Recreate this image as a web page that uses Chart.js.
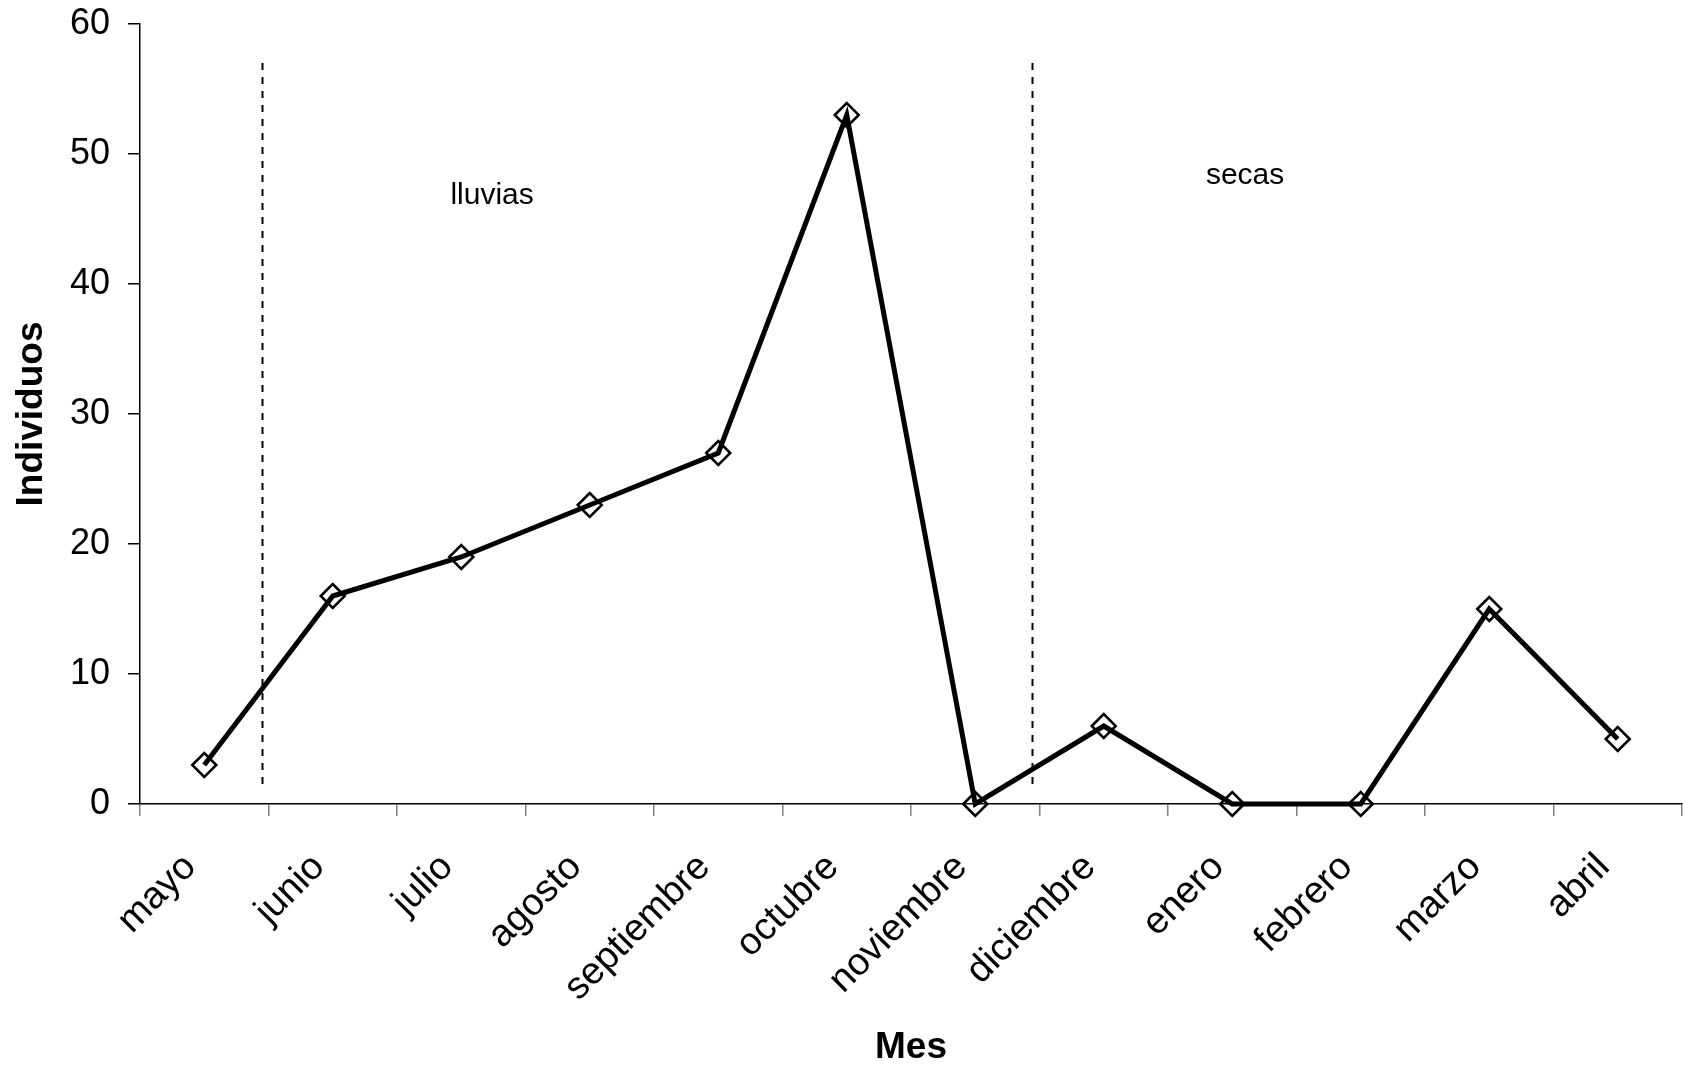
<!DOCTYPE html>
<html>
<head>
<meta charset="utf-8">
<script src="https://cdn.jsdelivr.net/npm/chart.js@4/dist/chart.umd.min.js"></script>
<style>
html,body{margin:0;padding:0;background:#fff;}
#wrap{width:1683px;height:1068px;}
</style>
</head>
<body>
<div id="wrap"><canvas id="c" width="1683" height="1068"></canvas></div>
<script>
const months = ['mayo','junio','julio','agosto','septiembre','octubre','noviembre','diciembre','enero','febrero','marzo','abril'];
const individuos = [3, 16, 19, 23, 27, 53, 0, 6, 0, 0, 15, 5];
const yTicks = [0, 10, 20, 30, 40, 50, 60];
const dividerX = [0.45, 6.44];
const dividerY = [1.5, 57];
const seasonNames = ['lluvias', 'secas'];
const seasonX = [2.24, 8.1];
const seasonY = [46.8, 48.3];

const FONT = '"Liberation Sans", Arial, sans-serif';

const seasonPlugin = {
  id: 'seasons',
  beforeDatasetsDraw(chart) {
    const {ctx, scales: {x, y}} = chart;
    ctx.save();
    ctx.strokeStyle = '#000';
    ctx.lineWidth = 2;
    ctx.setLineDash([7, 7]);
    dividerX.forEach(v => {
      const px = Math.round(x.getPixelForValue(v)) + 0.5;
      ctx.beginPath();
      ctx.moveTo(px, y.getPixelForValue(dividerY[1]));
      ctx.lineTo(px, y.getPixelForValue(dividerY[0]));
      ctx.stroke();
    });
    ctx.setLineDash([]);
    ctx.fillStyle = '#000';
    ctx.font = '30px ' + FONT;
    ctx.textAlign = 'center';
    ctx.textBaseline = 'middle';
    seasonNames.forEach((t, i) => {
      ctx.fillText(t, x.getPixelForValue(seasonX[i]), y.getPixelForValue(seasonY[i]));
    });
    ctx.restore();
  }
};

new Chart(document.getElementById('c'), {
  type: 'line',
  data: {
    labels: months,
    datasets: [{
      data: individuos,
      borderColor: '#000',
      borderWidth: 5,
      tension: 0,
      clip: false,
      pointStyle: 'rectRot',
      pointRadius: 12,
      pointHoverRadius: 12,
      pointBorderWidth: 2.5,
      pointBorderColor: '#000',
      pointBackgroundColor: 'rgba(0,0,0,0)'
    }]
  },
  options: {
    responsive: false,
    animation: false,
    events: [],
    layout: { autoPadding: false, padding: { left: 10, top: 24, right: 1, bottom: 0 } },
    plugins: { legend: { display: false }, tooltip: { enabled: false } },
    scales: {
      x: {
        offset: true,
        grid: { offset: true, drawOnChartArea: false, drawTicks: true, tickLength: 12, color: '#808080', lineWidth: 1.5 },
        border: { display: true, color: '#000', width: 1.5 },
        ticks: {
          color: '#000', font: { family: FONT, size: 38 },
          minRotation: 45, maxRotation: 45, padding: 29, labelOffset: -14, autoSkip: false
        },
        title: { display: true, text: 'Mes', color: '#000', font: { family: FONT, size: 37, weight: 'bold', lineHeight: 1.1 }, padding: 0 },
        afterFit(s) { s.height = 264; s.paddingLeft = 0; s.paddingRight = 0; }
      },
      y: {
        min: 0, max: 60,
        afterBuildTicks(s) { s.ticks = yTicks.map(v => ({ value: v })); },
        grid: { drawOnChartArea: false, drawTicks: true, tickLength: 12, color: '#000', lineWidth: 1.5 },
        border: { display: true, color: '#000', width: 1.5 },
        ticks: { color: '#000', font: { family: FONT, size: 36 }, padding: 18 },
        title: { display: true, text: 'Individuos', color: '#000', font: { family: FONT, size: 37, weight: 'bold' }, padding: 0 },
        afterFit(s) { s.width = 130; s.paddingTop = 0; s.paddingBottom = 0; }
      }
    }
  },
  plugins: [seasonPlugin]
});
</script>
</body>
</html>
